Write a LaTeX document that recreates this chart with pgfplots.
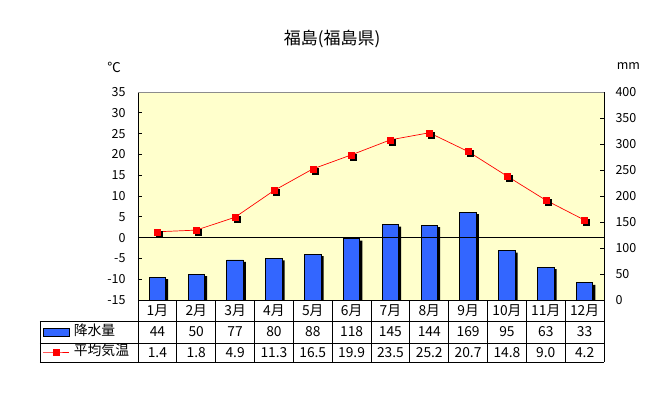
\documentclass[border=0pt]{standalone}
\usepackage{fontspec}
\setmainfont{Noto Sans CJK JP}
\usepackage{pgfplots}
\usepackage{pgfplotstable}
\pgfplotsset{compat=1.18}
\definecolor{bgyellow}{HTML}{FFFFCC}
\definecolor{barblue}{HTML}{3366FF}
\pgfplotsset{
  mylinelegend/.style={legend image code/.code={\draw[mark repeat=2, mark phase=2, ##1] plot coordinates {(0bp,0bp) (13bp,0bp) (26bp,0bp)};}},
  mybarlegend/.style={legend image code/.code={\draw[fill=barblue, draw=black, line width=0.9bp] (0bp,-4bp) rectangle (26bp,4bp);}},
}
\pgfplotstableread{
x m p t
1 1月 44 1.4
2 2月 50 1.8
3 3月 77 4.9
4 4月 80 11.3
5 5月 88 16.5
6 6月 118 19.9
7 7月 145 23.5
8 8月 144 25.2
9 9月 169 20.7
10 10月 95 14.8
11 11月 63 9.0
12 12月 33 4.2
}\data
\newcommand\tickfont{\fontsize{12.5bp}{14bp}\selectfont}
\newcommand\tabfont{\fontsize{13.8bp}{15bp}\selectfont}
\begin{document}
\begin{tikzpicture}
\useasboundingbox (-138bp,-99bp) rectangle (519bp,300bp);
% precipitation axis (right)
\begin{axis}[
 at={(0,0)}, anchor=south west,
 scale only axis, width=466bp, height=208bp,
 xmin=0.5, xmax=12.5, ymin=0, ymax=400,
 axis x line=none, axis y line*=right,
 axis line style={-, black, line width=0.9bp},
 ytick={0,50,...,400},
 tick align=inside, major tick length=4bp,
 tick style={black, line width=0.9bp},
 yticklabel style={font=\tickfont, anchor=west, xshift=8bp},
 /pgf/number format/assume math mode=true,
 axis background/.style={fill=bgyellow},
 ]
 \addplot[ybar, bar width=16.5bp, bar shift=2.5bp, yshift=-2bp, fill=black, draw=none] table[x=x,y=p]{\data};
 \addplot[ybar, bar width=16.5bp, bar shift=0pt, fill=barblue, draw=black, line width=0.9bp] table[x=x,y=p]{\data};
 \draw[black, line width=0.9bp] (axis cs:0.5,120) -- (axis cs:12.5,120);
\end{axis}
% temperature axis (left)
\begin{axis}[
 at={(0,0)}, anchor=south west,
 scale only axis, width=466bp, height=208bp,
 xmin=0.5, xmax=12.5, ymin=-15, ymax=35,
 axis x line=none, axis y line*=left,
 axis line style={-, black, line width=0.9bp},
 ytick={-15,-10,...,35},
 tick align=inside, major tick length=4bp,
 tick style={black, line width=0.9bp},
 yticklabel style={font=\tickfont, anchor=east, xshift=-9bp},
 /pgf/number format/assume math mode=true,
 clip=false,
 legend style={at={(-0.2039,-0.2031)}, anchor=west, draw=none, fill=none,
   inner sep=0pt, outer sep=0pt, row sep=6.5bp, column sep=4bp,
   nodes={inner sep=0pt, font=\tabfont, text height=10bp, text depth=3bp, anchor=west}},
 legend cell align=left,
 ]
 \addlegendimage{mybarlegend}
 \addlegendentry{降水量}
 \addplot[only marks, mark=square*, mark size=3bp, black, xshift=2bp, yshift=-2bp, forget plot] table[x=x,y=t]{\data};
 \addplot[red, line width=0.7bp, mark=square*, mark size=3bp, mark options={fill=red, draw=red, line width=0.5bp},
   mylinelegend] table[x=x,y=t]{\data};
 \addlegendentry{平均気温}
 \addplot[draw=none, mark=none, forget plot, point meta=explicit symbolic, nodes near coords,
   every node near coord/.append style={font=\tabfont, anchor=center, inner sep=0pt}] table[x=x, y expr=-17.52, meta=m]{\data};
 \addplot[draw=none, mark=none, forget plot, point meta=explicit symbolic, nodes near coords,
   every node near coord/.append style={font=\tabfont, anchor=center, inner sep=0pt}] table[x=x, y expr=-22.69, meta=p]{\data};
 \addplot[draw=none, mark=none, forget plot, point meta=explicit symbolic, nodes near coords,
   every node near coord/.append style={font=\tabfont, anchor=center, inner sep=0pt}] table[x=x, y expr=-27.62, meta=t]{\data};
\end{axis}
% frame and table grid
\draw[gray!90, line width=0.9bp] (0bp,208bp) -- (466bp,208bp);
\draw[black, line width=0.9bp] (0bp,0bp) -- (466bp,0bp);
\foreach \yy in {-21,-43,-62} \draw[black, line width=0.9bp] (-98bp,\yy bp) -- (466bp,\yy bp);
\draw[black, line width=0.9bp] (-98bp,-21bp) -- (-98bp,-62bp);
\foreach \k in {0,...,12} \draw[black, line width=0.9bp] (\k*38.8333bp,0bp) -- (\k*38.8333bp,-62bp);
% titles
\node[font=\fontsize{17bp}{19bp}\selectfont] at (194bp,261.5bp) {福島(福島県)};
\node[font=\fontsize{13.5bp}{15bp}\selectfont] at (-24bp,233bp) {℃};
\node[font=\tickfont, anchor=base west, inner sep=0pt] at (478.7bp,230bp) {mm};
\end{tikzpicture}
\end{document}
